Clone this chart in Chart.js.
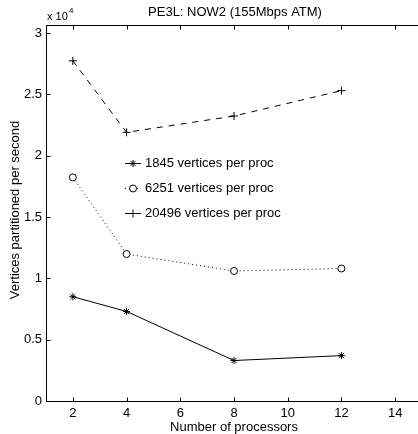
<!DOCTYPE html>
<html>
<head>
<meta charset="utf-8">
<script src="https://cdn.jsdelivr.net/npm/chart.js@4/dist/chart.umd.min.js"></script>
<style>
  html, body { margin: 0; padding: 0; background: #fff; overflow: hidden; }
  #wrap { position: relative; width: 430px; height: 434px; }
</style>
</head>
<body>
<div id="wrap"><canvas id="c" width="430" height="434"></canvas></div>
<script>
// ── DATA ──
const PROCS = [2, 4, 8, 12];
const V1845 = [8500, 7300, 3300, 3700];     // vertices partitioned per second
const V6251 = [18230, 11980, 10600, 10800];
const V20496 = [27730, 21900, 23230, 25300];
const LABELS = ['1845 vertices per proc', '6251 vertices per proc', '20496 vertices per proc'];
const X_TICKS = [2, 4, 6, 8, 10, 12, 14];
const Y_TICKS = [0, 5000, 10000, 15000, 20000, 25000, 30000];

const FONT = "'Liberation Sans', Arial, sans-serif";
const INK = '#000';

const toPts = vals => PROCS.map((p, i) => ({ x: p, y: vals[i] }));

// ── FRAME, INWARD TICKS, TEXT AND LEGEND ──
const decor = {
  id: 'decor',
  afterDatasetsDraw(chart) {
    const { ctx, chartArea: a, scales: { x, y } } = chart;
    ctx.save();
    ctx.strokeStyle = INK;
    ctx.lineWidth = 1;
    const L = Math.round(a.left) + 0.5, R = Math.round(a.right) + 0.5;
    const T = Math.round(a.top) + 0.5, B = Math.round(a.bottom) + 0.5;
    ctx.strokeRect(L, T, R - L, B - T);
    ctx.beginPath();
    X_TICKS.forEach(v => {
      const px = Math.round(x.getPixelForValue(v)) + 0.5;
      ctx.moveTo(px, B); ctx.lineTo(px, B - 4);
      ctx.moveTo(px, T); ctx.lineTo(px, T + 4);
    });
    Y_TICKS.forEach(v => {
      const py = Math.round(y.getPixelForValue(v)) + 0.5;
      ctx.moveTo(L, py); ctx.lineTo(L + 4, py);
      ctx.moveTo(R, py); ctx.lineTo(R - 4, py);
    });
    ctx.stroke();

    ctx.fillStyle = INK;
    ctx.textBaseline = 'middle';
    ctx.font = '13px ' + FONT;
    ctx.textAlign = 'center';
    ctx.fillText('PE3L: NOW2 (155Mbps ATM)', 235, 12);
    ctx.fillText('Number of processors', 234, 427);

    // exponent marker above the y axis
    ctx.textAlign = 'left';
    ctx.font = '11px ' + FONT;
    ctx.fillText('x 10', 47, 17);
    ctx.font = '8px ' + FONT;
    ctx.fillText('4', 69, 11);

    ctx.font = '13px ' + FONT;
    ctx.save();
    ctx.translate(15, 210);
    ctx.rotate(-Math.PI / 2);
    ctx.textAlign = 'center';
    ctx.fillText('Vertices partitioned per second', 0, 0);
    ctx.restore();

    // legend inside the axes, no box
    const rows = [163, 188, 213];
    chart.data.datasets.forEach((ds, i) => {
      const yy = rows[i] + 0.5;
      ctx.setLineDash(ds.borderDash || []);
      ctx.beginPath();
      ctx.moveTo(125, yy); ctx.lineTo(141, yy);
      ctx.stroke();
      ctx.setLineDash([]);
      ctx.save();
      ctx.fillStyle = '#fff';
      Chart.helpers.drawPoint(ctx, {
        pointStyle: ds.pointStyle, radius: ds.pointRadius, rotation: 0,
        borderWidth: 1
      }, 133, yy);
      ctx.restore();
      ctx.fillText(LABELS[i], 145, rows[i]);
    });
    ctx.restore();
  }
};

new Chart(document.getElementById('c'), {
  type: 'scatter',
  data: {
    datasets: [
      { data: toPts(V1845), showLine: true, borderColor: INK, borderWidth: 1,
        pointStyle: 'star', pointRadius: 3.5, pointBorderColor: INK, pointBackgroundColor: 'transparent' },
      { data: toPts(V6251), showLine: true, borderColor: INK, borderWidth: 1, borderDash: [1, 3],
        pointStyle: 'circle', pointRadius: 3.5, pointBorderColor: INK, pointBackgroundColor: '#fff' },
      { data: toPts(V20496), showLine: true, borderColor: INK, borderWidth: 1, borderDash: [6, 6],
        pointStyle: 'cross', pointRadius: 4, pointBorderColor: INK, pointBackgroundColor: 'transparent' }
    ]
  },
  options: {
    responsive: false, animation: false,
    layout: { padding: { top: 25, right: 8, left: 0, bottom: 0 } },
    plugins: { legend: { display: false }, tooltip: { enabled: false } },
    scales: {
      x: {
        type: 'linear', min: 1, max: 15,
        afterBuildTicks: s => { s.ticks = X_TICKS.map(v => ({ value: v })); },
        afterFit: s => { s.height = 33; },
        grid: { display: false, drawTicks: false }, border: { display: false },
        ticks: { color: INK, padding: 5, font: { family: FONT, size: 13 } }
      },
      y: {
        min: 0, max: 30650,
        afterBuildTicks: s => { s.ticks = Y_TICKS.map(v => ({ value: v })); },
        afterFit: s => { s.width = 46; },
        grid: { display: false, drawTicks: false }, border: { display: false },
        ticks: { color: INK, padding: 4, font: { family: FONT, size: 13 },
                 callback: v => String(v / 10000) }
      }
    }
  },
  plugins: [decor]
});
</script>
</body>
</html>
